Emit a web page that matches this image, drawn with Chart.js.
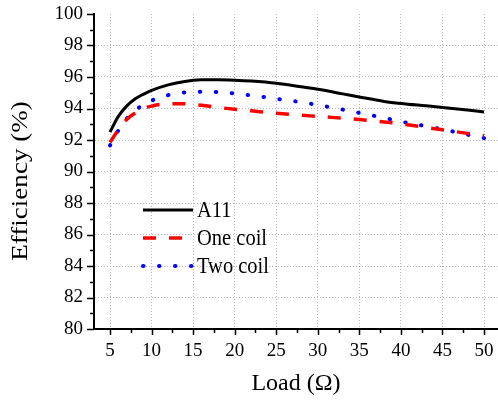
<!DOCTYPE html>
<html>
<head>
<meta charset="utf-8">
<script src="https://cdn.jsdelivr.net/npm/chart.js@4/dist/chart.umd.min.js"></script>
<style>
  html, body { margin: 0; padding: 0; background: #fff; }
  #wrap { width: 498px; height: 400px; }
</style>
</head>
<body>
<div id="wrap"><canvas id="c" width="498" height="400"></canvas></div>
<script>
// Load resistance (Ω) and measured efficiency (%) for each configuration
const loads   = [5, 6, 7, 8, 9, 10, 12, 14, 16, 18, 20, 22, 25, 28, 30, 33, 35, 38, 40, 43, 45, 48, 50];
const a11     = [92.5, 93.5, 94.15, 94.6, 94.9, 95.15, 95.5, 95.72, 95.82, 95.83, 95.8, 95.74, 95.6, 95.38, 95.22, 94.93, 94.73, 94.45, 94.32, 94.17, 94.07, 93.9, 93.78];
const oneCoil = [91.85, 92.65, 93.3, 93.7, 94.0, 94.15, 94.3, 94.3, 94.2, 94.07, 93.95, 93.85, 93.7, 93.57, 93.5, 93.38, 93.3, 93.15, 93.02, 92.8, 92.65, 92.42, 92.28];
const twoCoil = [91.65, 92.6, 93.35, 93.85, 94.25, 94.5, 94.85, 95.02, 95.07, 95.04, 94.95, 94.83, 94.62, 94.4, 94.22, 93.93, 93.72, 93.4, 93.17, 92.88, 92.68, 92.34, 92.12];

const seriesNames = ['A11', 'One coil', 'Two coil'];
const xTickValues = [5, 10, 15, 20, 25, 30, 35, 40, 45, 50];
const yTickValues = [80, 82, 84, 86, 88, 90, 92, 94, 96, 98, 100];

const FONT = '"Liberation Serif", "Times New Roman", serif';
Chart.defaults.font.family = FONT;
Chart.defaults.color = '#000';

// Major ticks plus minor ticks halfway between them
function withMinors(majors) {
  const out = [];
  for (let i = 0; i < majors.length; i++) {
    out.push({ value: majors[i], major: true });
    if (i < majors.length - 1) out.push({ value: (majors[i] + majors[i + 1]) / 2, major: false });
  }
  return out;
}

const pts = vals => loads.map((x, i) => ({ x, y: vals[i] }));

// Fixed scale box sizes, no extra label padding
function fixSize(prop, size) {
  return scale => {
    scale[prop] = size;
    scale.paddingTop = 0; scale.paddingBottom = 0;
    scale.paddingLeft = 0; scale.paddingRight = 0;
  };
}

// Outward tick marks, longer for majors
const tickMarks = {
  id: 'tickMarks',
  afterDraw(chart) {
    const { ctx, chartArea, scales } = chart;
    ctx.save();
    ctx.strokeStyle = '#000';
    ctx.lineWidth = 1.5;
    ctx.beginPath();
    scales.x.ticks.forEach(t => {
      const px = Math.round(scales.x.getPixelForValue(t.value)) + 0.5;
      const len = t.major ? 6 : 4;
      ctx.moveTo(px, chartArea.bottom);
      ctx.lineTo(px, chartArea.bottom + len);
    });
    scales.y.ticks.forEach(t => {
      const py = Math.round(scales.y.getPixelForValue(t.value)) + 0.5;
      const len = t.major ? 7 : 4;
      ctx.moveTo(chartArea.left, py);
      ctx.lineTo(chartArea.left - len, py);
    });
    ctx.stroke();
    ctx.restore();
  }
};

// Rotated y-axis title (glyphs slightly elongated, like the other text)
const yTitle = {
  id: 'yTitle',
  afterDraw(chart) {
    const { ctx } = chart;
    ctx.save();
    ctx.translate(21, 181);
    ctx.scale(1, 1.15);
    ctx.rotate(-Math.PI / 2);
    ctx.fillStyle = '#000';
    ctx.font = '23.5px ' + FONT;
    ctx.textAlign = 'center';
    ctx.textBaseline = 'middle';
    ctx.fillText('Efficiency (%)', 0, 0);
    ctx.restore();
  }
};

// Legend inside the plot, line samples built from each dataset's style
const insideLegend = {
  id: 'insideLegend',
  afterDraw(chart) {
    const { ctx } = chart;
    const x0 = 143, x1 = 193, textX = 197;
    const rows = [210, 238, 266];
    chart.data.datasets.forEach((ds, i) => {
      const y = rows[i];
      ctx.save();
      ctx.strokeStyle = ds.borderColor;
      ctx.lineWidth = ds.borderWidth;
      ctx.lineCap = ds.borderCapStyle || 'butt';
      ctx.setLineDash(ds.borderDash || []);
      ctx.beginPath();
      ctx.moveTo(x0, y);
      ctx.lineTo(x1, y);
      ctx.stroke();
      ctx.restore();
      ctx.save();
      ctx.translate(textX, y + 1);
      ctx.scale(1, 1.12);
      ctx.fillStyle = '#000';
      ctx.font = '20.5px ' + FONT;
      ctx.textAlign = 'left';
      ctx.textBaseline = 'middle';
      ctx.fillText(ds.label, 0, 0);
      ctx.restore();
    });
  }
};

new Chart(document.getElementById('c'), {
  type: 'line',
  data: {
    datasets: [
      {
        label: seriesNames[0], data: pts(a11),
        borderColor: '#000000', borderWidth: 3, pointRadius: 0,
        cubicInterpolationMode: 'monotone'
      },
      {
        label: seriesNames[1], data: pts(oneCoil),
        borderColor: '#ff0000', borderWidth: 3.5, borderDash: [13, 13], pointRadius: 0,
        cubicInterpolationMode: 'monotone'
      },
      {
        label: seriesNames[2], data: pts(twoCoil),
        borderColor: '#0000ff', borderWidth: 4, borderDash: [0.5, 15.5], borderCapStyle: 'round', pointRadius: 0,
        cubicInterpolationMode: 'monotone'
      }
    ]
  },
  options: {
    responsive: false,
    animation: false,
    layout: { padding: { top: 14, right: 0, left: 0, bottom: 0 } },
    plugins: { legend: { display: false }, tooltip: { enabled: false } },
    scales: {
      x: {
        type: 'linear',
        min: 3.075,
        max: 51.68,
        afterBuildTicks(scale) { scale.ticks = withMinors(xTickValues); },
        afterFit: fixSize('height', 71),
        grid: {
          drawTicks: false,
          lineWidth: 1,
          color: c => (c.tick && c.tick.major) ? '#b8b8b8' : 'rgba(0,0,0,0)'
        },
        border: { display: true, color: '#000', width: 2, dash: [1, 2] },
        ticks: {
          autoSkip: false, maxRotation: 0, color: '#000', padding: 11,
          font: { family: FONT, size: 19 },
          callback: (v, i, ticks) => ticks[i].major ? String(v) : ''
        },
        title: {
          display: true, text: 'Load (Ω)', color: '#000',
          font: { family: FONT, size: 24 }, padding: { top: 0, bottom: 2 }
        }
      },
      y: {
        type: 'linear',
        min: 80,
        max: 100,
        afterBuildTicks(scale) { scale.ticks = withMinors(yTickValues); },
        afterFit: fixSize('width', 94),
        grid: {
          drawTicks: false,
          lineWidth: 1,
          color: c => (c.tick && c.tick.major && c.tick.value !== 80 && c.tick.value !== 100) ? '#b8b8b8' : 'rgba(0,0,0,0)'
        },
        border: { display: true, color: '#000', width: 2, dash: [1, 2] },
        ticks: {
          autoSkip: false, color: '#000', padding: 11,
          font: { family: FONT, size: 19 },
          callback: (v, i, ticks) => ticks[i].major ? String(v) : ''
        }
      }
    }
  },
  plugins: [tickMarks, yTitle, insideLegend]
});
</script>
</body>
</html>
